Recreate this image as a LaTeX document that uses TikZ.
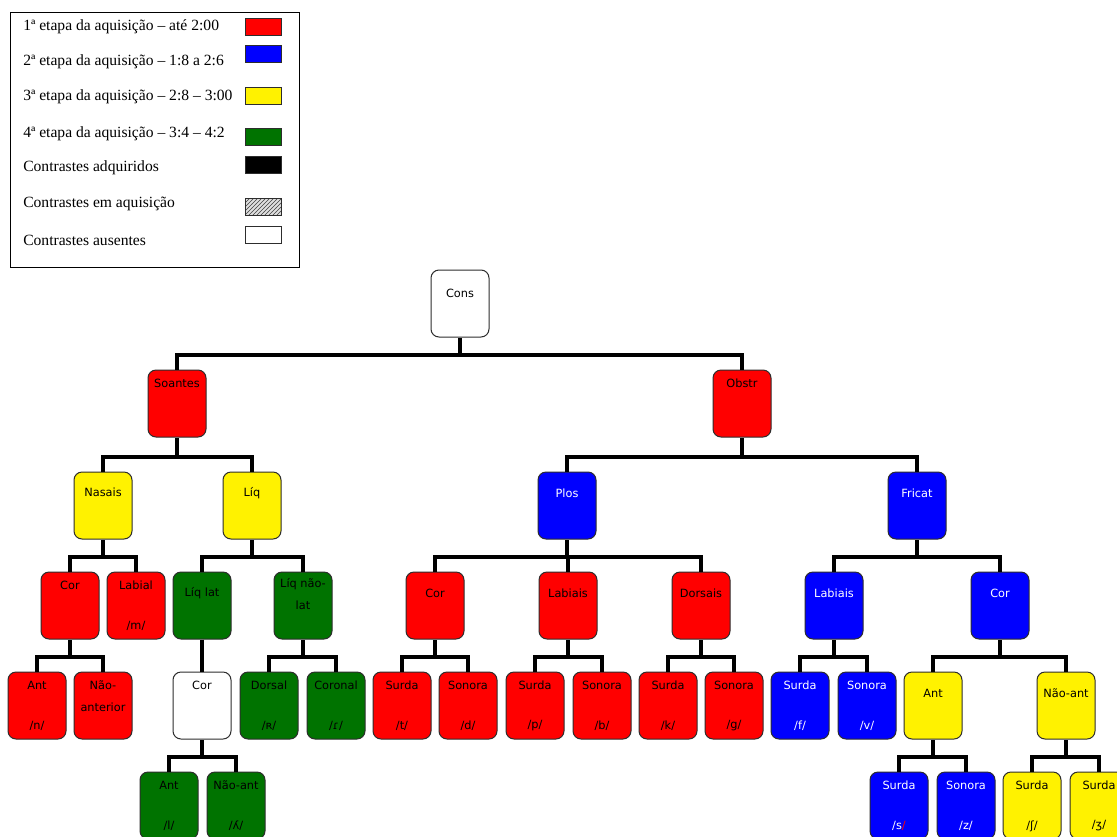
\documentclass[tikz,border=0pt]{standalone}
\usepackage{fontspec}
\setmainfont{Liberation Serif}
\newfontfamily\dvs{DejaVu Sans}
\usetikzlibrary{patterns}
\definecolor{dgreen}{RGB}{0,115,0}
\definecolor{bord}{RGB}{45,45,45}
\tikzset{
  box/.style={draw=bord, line width=0.75pt, rounded corners=6pt, minimum width=43.5pt, minimum height=50.25pt, inner sep=0pt},
  lbl/.style={font=\dvs\fontsize{8.5}{16.5}\selectfont, inner sep=0pt, align=center},
  conn/.style={line width=3pt, line join=miter},
  leg/.style={font=\fontsize{11.7}{14}\selectfont, inner sep=0pt, anchor=west},
  sw/.style={draw=bord, line width=0.75pt, minimum width=27pt, minimum height=12.75pt, inner sep=0pt}
}
\newcommand\bx[7]{\node[box,fill=#4] (#1) at (#2,#3+33.5) {};
  \node[lbl,text=#5] (#1l) at (#2,#3+#7) {#6};}
\newcommand\bxp[8]{\bx{#1}{#2}{#3}{#4}{#5}{#6}{#7}
  \node[lbl,text=#5] (#1p) at (#2,#3+54) {#8};}
\newcommand\cn[2]{\draw[conn] (#2.north) -- ++(0,-15) -| (#1.south);}
\begin{document}
\begin{tikzpicture}[x=0.75pt,y=-0.75pt]
\useasboundingbox (0,0) rectangle (1117,836);
\fill[white] (0,0) rectangle (1117,836);
\clip (0,0) rectangle (1117,836);
% legend
\draw[line width=0.75pt] (10,12) rectangle (299,267);
\node[leg] (t1) at (23,27) {1ª etapa da aquisição – até 2:00};
\node[leg] (t2) at (23,62) {2ª etapa da aquisição – 1:8 a 2:6};
\node[leg] (t3) at (23,97) {3ª etapa da aquisição – 2:8 – 3:00};
\node[leg] (t4) at (23,134) {4ª etapa da aquisição – 3:4 – 4:2};
\node[leg] (t5) at (23,168) {Contrastes adquiridos};
\node[leg] (t6) at (23,204) {Contrastes em aquisição};
\node[leg] (t7) at (23,240) {Contrastes ausentes};
\node[sw,fill=red] (s1) at (263,26.5) {};
\node[sw,fill=blue] (s2) at (263,53.5) {};
\node[sw,fill=yellow] (s3) at (263,95.5) {};
\node[sw,fill=dgreen] (s4) at (263,137) {};
\node[sw,fill=black] (s5) at (263,165) {};
\node[sw,preaction={fill=gray!25},pattern=north east lines,pattern color=black!75] (s6) at (263,206.5) {};
\node[sw,fill=white] (s7) at (263,234.5) {};
% tree nodes
\bx{cons}{460}{270}{white}{black}{Cons}{23}
\bx{soantes}{177}{370}{red}{black}{Soantes}{13}
\bx{obstr}{742}{370}{red}{black}{Obstr}{13}
\bx{nasais}{103}{472}{yellow}{black}{Nasais}{20}
\bx{liq}{252}{472}{yellow}{black}{Líq}{21}
\bx{plos}{567}{472}{blue}{white}{Plos}{21}
\bx{fricat}{917}{472}{blue}{white}{Fricat}{21}
\bx{ncor}{70}{572}{red}{black}{Cor}{13}
\bxp{nlab}{136}{572}{red}{black}{Labial}{13}{/m/}
\bx{liqlat}{202}{572}{dgreen}{black}{Líq lat}{21}
\bx{liqnlat}{303}{572}{dgreen}{black}{Líq não-\\lat}{22}
\bx{pcor}{435}{572}{red}{black}{Cor}{21}
\bx{plab}{568}{572}{red}{black}{Labiais}{21}
\bx{pdor}{701}{572}{red}{black}{Dorsais}{21}
\bx{flab}{834}{572}{blue}{white}{Labiais}{21}
\bx{fcor}{1000}{572}{blue}{white}{Cor}{21}
\bxp{nant}{37}{672}{red}{black}{Ant}{13}{/n/}
\bx{nnant}{103}{672}{red}{black}{Não-\\anterior}{24}
\bx{lcor}{202}{672}{white}{black}{Cor}{13}
\bxp{ldor}{269}{672}{dgreen}{black}{Dorsal}{13}{/ʀ/}
\bxp{lcoro}{336}{672}{dgreen}{black}{Coronal}{13}{/ɾ/}
\bxp{ts}{402}{672}{red}{black}{Surda}{13}{/t/}
\bxp{ds}{468}{672}{red}{black}{Sonora}{13}{/d/}
\bxp{ps}{535}{672}{red}{black}{Surda}{13}{/p/}
\bxp{bs}{602}{672}{red}{black}{Sonora}{13}{/b/}
\bxp{ks}{668}{672}{red}{black}{Surda}{13}{/k/}
\bxp{gs}{734}{672}{red}{black}{Sonora}{13}{/g/}
\bxp{fs}{800}{672}{blue}{white}{Surda}{13}{/f/}
\bxp{vs}{867}{672}{blue}{white}{Sonora}{13}{/v/}
\bx{fant}{933}{672}{yellow}{black}{Ant}{21}
\bx{fnant}{1066}{672}{yellow}{black}{Não-ant}{21}
\bxp{lant}{169}{772}{dgreen}{black}{Ant}{13}{/l/}
\bxp{lnant}{236}{772}{dgreen}{black}{Não-ant}{13}{/ʎ/}
\bxp{ss}{899}{772}{blue}{white}{Surda}{13}{/s\textcolor{red}{/}}
\bxp{zs}{966}{772}{blue}{white}{Sonora}{13}{/z/}
\bxp{shs}{1032}{772}{yellow}{black}{Surda}{13}{/ʃ/}
\bxp{zhs}{1099}{772}{yellow}{black}{Surda}{13}{/ʒ/}
% connectors
\cn{cons}{soantes}\cn{cons}{obstr}
\cn{soantes}{nasais}\cn{soantes}{liq}
\cn{obstr}{plos}\cn{obstr}{fricat}
\cn{nasais}{ncor}\cn{nasais}{nlab}
\cn{liq}{liqlat}\cn{liq}{liqnlat}
\cn{plos}{pcor}\cn{plos}{plab}\cn{plos}{pdor}
\cn{fricat}{flab}\cn{fricat}{fcor}
\cn{ncor}{nant}\cn{ncor}{nnant}
\draw[conn] (liqlat.south) -- (lcor.north);
\cn{liqnlat}{ldor}\cn{liqnlat}{lcoro}
\cn{pcor}{ts}\cn{pcor}{ds}
\cn{plab}{ps}\cn{plab}{bs}
\cn{pdor}{ks}\cn{pdor}{gs}
\cn{flab}{fs}\cn{flab}{vs}
\cn{fcor}{fant}\cn{fcor}{fnant}
\cn{lcor}{lant}\cn{lcor}{lnant}
\cn{fant}{ss}\cn{fant}{zs}
\cn{fnant}{shs}\cn{fnant}{zhs}
\end{tikzpicture}
\end{document}
